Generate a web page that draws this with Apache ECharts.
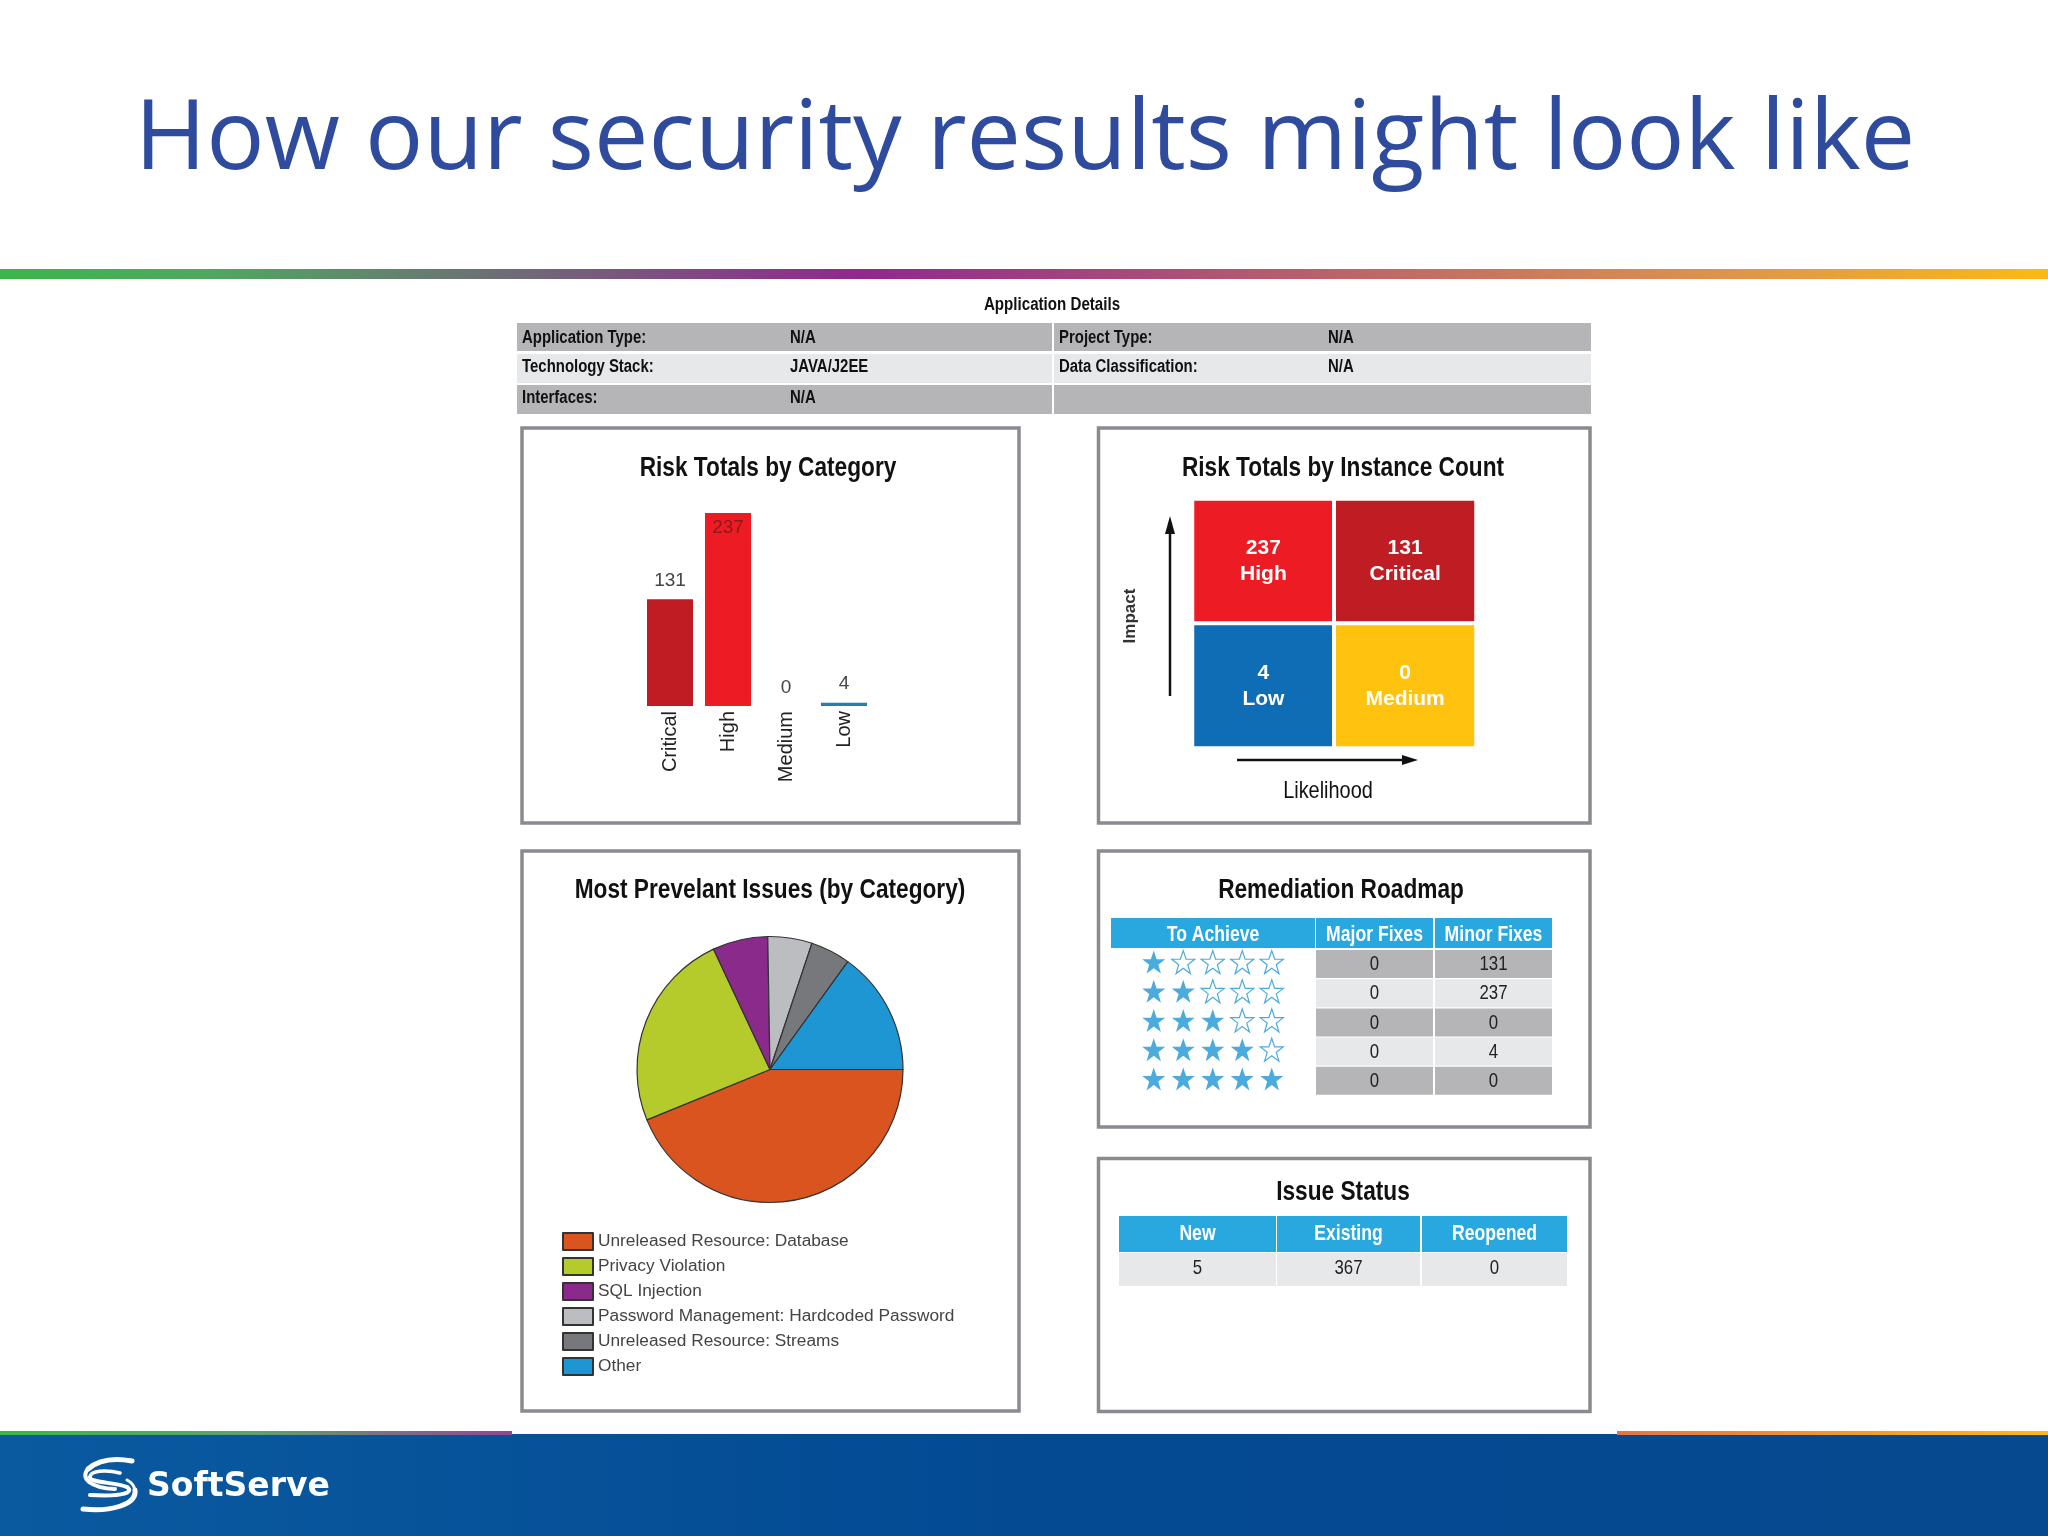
<!DOCTYPE html>
<html>
<head>
<meta charset="utf-8">
<title>How our security results might look like</title>
<style>
  html, body { margin: 0; padding: 0; background: #fff; }
  #main { width: 2048px; height: 1536px; }
</style>
<script src="https://cdn.jsdelivr.net/npm/echarts@6/dist/echarts.min.js"></script>
</head>
<body>
<div id="main"></div>
<script>
// chart data
var riskCategories = ['Critical', 'High', 'Medium', 'Low'];
var riskValues = [131, 237, 0, 4];
var riskColors = ['#C01C24', '#ED1C24', '#FFC20E', '#2A7BAE'];

var matrixLikelihood = ['Low', 'High'];
var matrixImpact = ['Low', 'High'];
var matrixCells = [
    [0, 1, 237, 'High', '#ED1C24'],
    [1, 1, 131, 'Critical', '#C01C24'],
    [0, 0, 4, 'Low', '#0F6DB6'],
    [1, 0, 0, 'Medium', '#FFC20E']
];

var issueNames = ['Unreleased Resource: Database', 'Privacy Violation', 'SQL Injection',
    'Password Management: Hardcoded Password', 'Unreleased Resource: Streams', 'Other'];
var issueValues = [163, 90, 25, 20, 18, 56];
var issueColors = ['#D9541E', '#B5CB2C', '#8A2A8A', '#BCBDC0', '#77787B', '#1E96D4'];

var detailRows = [
    ['Application Type:', 'N/A', 'Project Type:', 'N/A'],
    ['Technology Stack:', 'JAVA/J2EE', 'Data Classification:', 'N/A'],
    ['Interfaces:', 'N/A', '', '']
];

var roadmapHeader = ['To Achieve', 'Major Fixes', 'Minor Fixes'];
var roadmapStars = [1, 2, 3, 4, 5];
var roadmapMajor = [0, 0, 0, 0, 0];
var roadmapMinor = [131, 237, 0, 4, 0];

var statusHeader = ['New', 'Existing', 'Reopened'];
var statusValues = [5, 367, 0];

var FONT = '"Liberation Sans", sans-serif';
var STAR = 'path://M50 2 L62 37 L98 37 L69 59 L80 95 L50 73 L20 95 L31 59 L2 37 L38 37 Z';
var GRAY_ROW = '#B5B5B8', LIGHT_ROW = '#E6E8EA', HEAD = '#29A8E0', BORDER = '#8A8A90';

var graphics = [];

function box(x, y, w, h, fill) {
    graphics.push({ type: 'rect', shape: { x: x, y: y, width: w, height: h }, style: { fill: fill } });
}
function panel(x, y, w, h) {
    graphics.push({ type: 'rect', shape: { x: x, y: y, width: w, height: h },
        style: { fill: 'none', stroke: BORDER, lineWidth: 3.5 } });
}
// the original type is condensed, so the text is squeezed horizontally
function label(text, x, y, size, color, weight, align, squeeze) {
    graphics.push({ type: 'text', x: x, y: y + 1.5, scaleX: squeeze || 0.8, style: {
        text: String(text), fill: color, align: align || 'center', verticalAlign: 'middle',
        font: (weight || 'normal') + ' ' + size + 'px ' + FONT } });
}
function arrow(x1, y1, x2, y2, dx, dy) {
    graphics.push({ type: 'line', shape: { x1: x1, y1: y1, x2: x2, y2: y2 }, style: { stroke: '#111', lineWidth: 2.5 } });
    graphics.push({ type: 'polygon', shape: { points: [
        [x2 + dx, y2 + dy], [x2 + (dy ? -5 : -6), y2 + (dy ? 6 : -5)], [x2 + (dy ? 5 : -6), y2 + (dy ? 6 : 5)]
    ] }, style: { fill: '#111' } });
}

// slide chrome
graphics.push({ type: 'rect', shape: { x: 0, y: 269, width: 2048, height: 10 }, style: {
    fill: new echarts.graphic.LinearGradient(0, 0, 1, 0, [
        { offset: 0, color: '#3CB54A' }, { offset: 0.1, color: '#4FA860' },
        { offset: 0.42, color: '#92278F' }, { offset: 0.85, color: '#E0954A' }, { offset: 1, color: '#FDB913' }
    ]) } });
graphics.push({ type: 'rect', shape: { x: 0, y: 1434, width: 2048, height: 102 }, style: {
    fill: new echarts.graphic.LinearGradient(0, 0, 1, 0, [
        { offset: 0, color: '#0A5AA0' }, { offset: 0.5, color: '#034A93' }, { offset: 1, color: '#07498F' }
    ]) } });
graphics.push({ type: 'rect', shape: { x: 0, y: 1431, width: 512, height: 4 }, style: {
    fill: new echarts.graphic.LinearGradient(0, 0, 1, 0, [
        { offset: 0, color: '#3CB54A' }, { offset: 0.5, color: '#5FA070' }, { offset: 1, color: '#92478F' }
    ]) } });
graphics.push({ type: 'rect', shape: { x: 1617, y: 1431, width: 431, height: 4 }, style: {
    fill: new echarts.graphic.LinearGradient(0, 0, 1, 0, [
        { offset: 0, color: '#E0754A' }, { offset: 1, color: '#FDB913' }
    ]) } });

// logo
[[132, 1461, 110, 1457, 96, 1462, 88, 1469, 5],
 [88, 1469, 80, 1478, 90, 1488, 115, 1489, 4],
 [120, 1473, 105, 1469, 90, 1471, 90, 1477, 3.5],
 [90, 1477, 90, 1483, 115, 1482, 127, 1487, 4],
 [127, 1487, 134, 1492, 125, 1497, 90, 1495, 4],
 [83, 1509, 110, 1512, 137, 1505, 135, 1490, 5],
 [135, 1490, 134, 1485, 131, 1482, 127, 1480, 3]].forEach(function (c) {
    graphics.push({ type: 'bezierCurve',
        shape: { x1: c[0], y1: c[1], cpx1: c[2], cpy1: c[3], cpx2: c[4], cpy2: c[5], x2: c[6], y2: c[7] },
        style: { fill: 'none', stroke: '#fff', lineWidth: c[8], lineCap: 'round' } });
});
graphics.push({ type: 'text', x: 147, y: 1487, style: { text: 'SoftServe', fill: '#fff', align: 'left',
    verticalAlign: 'middle', font: 'bold 33px "DejaVu Sans", sans-serif' } });

// application details
label('Application Details', 1052, 304, 18, '#111', 'bold', 'center', 0.84);
var detailTop = [323, 354, 385], detailH = [28, 29, 29], detailText = [337, 366, 397];
detailRows.forEach(function (row, i) {
    var fill = i % 2 ? LIGHT_ROW : GRAY_ROW;
    box(517, detailTop[i], 535, detailH[i], fill);
    box(1054, detailTop[i], 537, detailH[i], fill);
    label(row[0], 522, detailText[i], 18, '#111', 'bold', 'left', 0.83);
    label(row[1], 790, detailText[i], 18, '#111', 'bold', 'left', 0.83);
    label(row[2], 1059, detailText[i], 18, '#111', 'bold', 'left', 0.83);
    label(row[3], 1328, detailText[i], 18, '#111', 'bold', 'left', 0.83);
});

// panels and their titles
panel(522, 428, 497, 395);
panel(1098.5, 428, 491.5, 395);
panel(522, 851, 497, 560);
panel(1098.5, 851, 491.5, 276);
panel(1098.5, 1158.5, 491.5, 253);
label('Risk Totals by Category', 768, 467, 27, '#111', 'bold', 'center', 0.84);
label('Risk Totals by Instance Count', 1343, 467, 27, '#111', 'bold', 'center', 0.84);
label('Most Prevelant Issues (by Category)', 770, 889, 27, '#111', 'bold', 'center', 0.84);
label('Remediation Roadmap', 1341, 889, 27, '#111', 'bold', 'center', 0.84);
label('Issue Status', 1343, 1191, 27, '#111', 'bold', 'center', 0.84);

// matrix axes
arrow(1170, 696, 1170, 528, 0, -12);
arrow(1237, 760, 1408, 760, 10, 0);
graphics.push({ type: 'text', x: 1130, y: 616, rotation: Math.PI / 2, style: { text: 'Impact', fill: '#333',
    align: 'center', verticalAlign: 'middle', font: 'bold 17px ' + FONT } });
label('Likelihood', 1328, 790, 24, '#111', 'normal', 'center', 0.83);

// remediation roadmap table
var roadmapX = [[1111, 204], [1316, 117], [1435, 117]];
roadmapHeader.forEach(function (h, i) {
    box(roadmapX[i][0], 918, roadmapX[i][1], 30, HEAD);
    label(h, roadmapX[i][0] + roadmapX[i][1] / 2, 933, 22, '#fff', 'bold');
});
roadmapStars.forEach(function (s, i) {
    var y = 950 + i * 29.2, fill = i % 2 ? LIGHT_ROW : GRAY_ROW;
    box(1316, y, 117, 28, fill);
    box(1435, y, 117, 28, fill);
    label(roadmapMajor[i], 1374.5, y + 13, 21, '#222');
    label(roadmapMinor[i], 1493.5, y + 13, 21, '#222');
});

// issue status table
var statusX = [[1119, 157], [1277, 143], [1422, 145]];
statusHeader.forEach(function (h, i) {
    box(statusX[i][0], 1216, statusX[i][1], 36, HEAD);
    label(h, statusX[i][0] + statusX[i][1] / 2, 1232, 22, '#fff', 'bold');
    box(statusX[i][0], 1253, statusX[i][1], 33, LIGHT_ROW);
    label(statusValues[i], statusX[i][0] + statusX[i][1] / 2, 1267, 21, '#222');
});

// star rating points
var starPoints = [];
roadmapStars.forEach(function (count, row) {
    for (var c = 0; c < 5; c++) {
        starPoints.push({ value: [c, row], itemStyle: c < count
            ? { color: '#1E96D4', borderWidth: 0 }
            : { color: '#fff', borderColor: '#1E96D4', borderWidth: 1.2 } });
    }
});

var myChart = echarts.init(document.getElementById('main'));
var option = {
    animation: false,
    backgroundColor: '#fff',
    title: { text: 'How our security results might look like', left: 1020, top: 136, textAlign: 'center', textVerticalAlign: 'middle',
        textStyle: { fontFamily: '"Open Sans", sans-serif', fontWeight: 'normal', fontSize: 97, color: '#2F4B9E' } },
    grid: [
        { left: 641, top: 513, width: 232, height: 193 },
        { left: 1192.5, top: 499, width: 283.5, height: 249 },
        { left: 1139, top: 947.5, width: 147.5, height: 146 }
    ],
    xAxis: [
        { gridIndex: 0, type: 'category', data: riskCategories,
          axisLine: { show: false }, axisTick: { show: false },
          axisLabel: { rotate: 90, margin: 5, fontFamily: FONT, fontSize: 20, color: '#222', interval: 0 } },
        { gridIndex: 1, type: 'category', data: matrixLikelihood, show: false },
        { gridIndex: 2, type: 'category', data: [0, 1, 2, 3, 4], show: false }
    ],
    yAxis: [
        { gridIndex: 0, type: 'value', min: 0, max: 237, show: false },
        { gridIndex: 1, type: 'category', data: matrixImpact, show: false },
        { gridIndex: 2, type: 'category', data: roadmapStars, inverse: true, show: false }
    ],
    legend: {
        orient: 'vertical', left: 557, top: 1227, itemWidth: 30, itemHeight: 17, itemGap: 6, icon: 'rect',
        data: issueNames,
        textStyle: { fontFamily: FONT, fontSize: 17.3, color: '#444' }
    },
    series: [
        {
            type: 'bar', xAxisIndex: 0, yAxisIndex: 0, barWidth: 46,
            data: riskValues.map(function (v, i) {
                return { value: v, itemStyle: { color: riskColors[i] },
                    label: v === 237
                        ? { show: true, position: 'insideTop', distance: 5, color: '#8A1A1A', fontFamily: FONT, fontSize: 19 }
                        : { show: true, position: 'top', distance: 9, color: '#444', fontFamily: FONT, fontSize: 19 } };
            })
        },
        {
            type: 'heatmap', xAxisIndex: 1, yAxisIndex: 1,
            data: matrixCells.map(function (c) {
                return { value: [c[0], c[1], c[2]], name: c[3],
                    itemStyle: { color: c[4], borderColor: '#fff', borderWidth: 4 } };
            }),
            label: { show: true, color: '#fff', fontFamily: FONT, fontWeight: 'bold', fontSize: 21, lineHeight: 26,
                formatter: function (p) { return p.value[2] + '\n' + p.name; } }
        },
        {
            type: 'scatter', xAxisIndex: 2, yAxisIndex: 2, symbol: STAR, symbolSize: 23,
            data: starPoints
        },
        {
            type: 'pie', center: [770, 1069.5], radius: 133, startAngle: 0, clockwise: true,
            label: { show: false }, labelLine: { show: false },
            itemStyle: { borderColor: '#333', borderWidth: 1.2 },
            data: issueNames.map(function (n, i) {
                return { name: n, value: issueValues[i], itemStyle: { color: issueColors[i] } };
            })
        }
    ],
    graphic: graphics
};
myChart.setOption(option);
</script>
</body>
</html>
